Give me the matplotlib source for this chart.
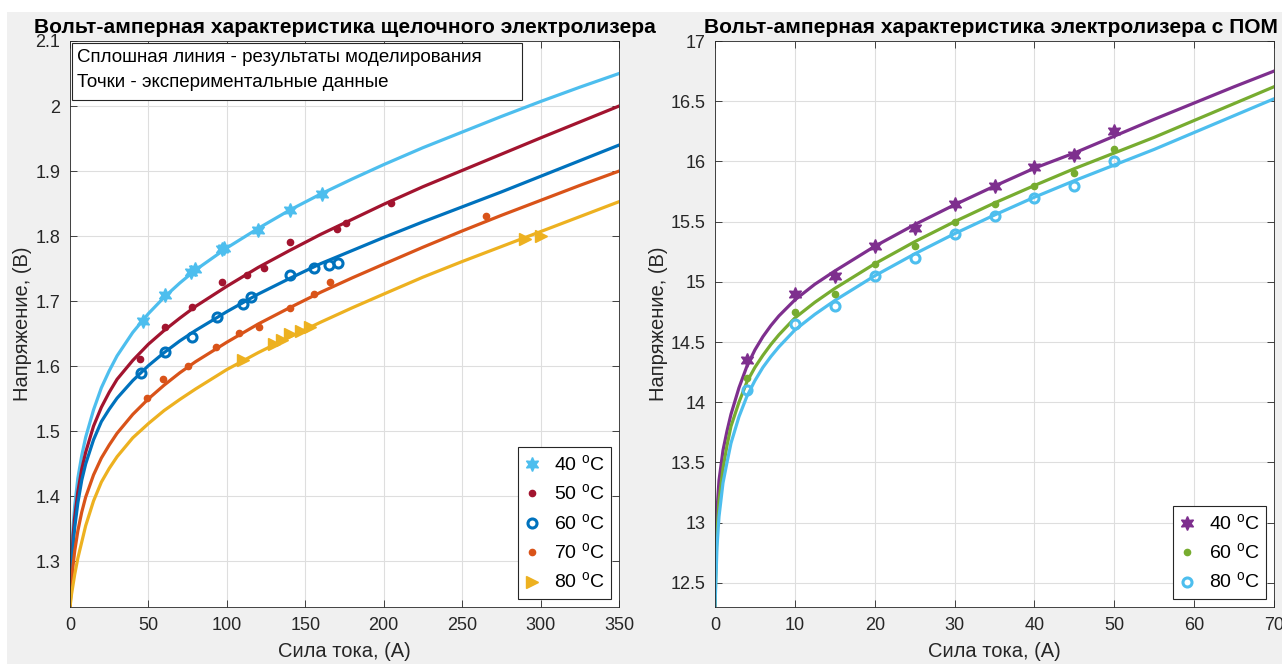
import matplotlib
matplotlib.use('Agg')
import matplotlib.pyplot as plt
from matplotlib.patches import Rectangle
from matplotlib.ticker import FuncFormatter, MultipleLocator

plt.rcParams['font.family'] = ['Liberation Sans', 'DejaVu Sans']
plt.rcParams['mathtext.fontset'] = 'custom'
plt.rcParams['mathtext.rm'] = 'Liberation Sans'

# ---------------- Left chart: alkaline electrolyser ----------------
temps_left = ['40', '50', '60', '70', '80']

I_mod = [0, 0.5, 1, 2, 3, 5, 7.5, 10, 15, 20, 25, 30, 40, 50, 60, 70, 80, 100, 120, 140,
         160, 180, 200, 225, 250, 275, 300, 325, 350]
V_mod_40 = [1.23, 1.28, 1.31, 1.355, 1.385, 1.428, 1.463, 1.491, 1.533, 1.567, 1.593, 1.616,
            1.652, 1.681, 1.706, 1.728, 1.748, 1.782, 1.812, 1.840, 1.865, 1.888, 1.910,
            1.936, 1.960, 1.984, 2.007, 2.029, 2.050]
V_mod_50 = [1.23, 1.265, 1.295, 1.340, 1.368, 1.407, 1.442, 1.468, 1.508, 1.537, 1.560, 1.580,
            1.609, 1.634, 1.655, 1.674, 1.692, 1.723, 1.752, 1.778, 1.803, 1.826, 1.849,
            1.876, 1.901, 1.926, 1.951, 1.9755, 2.000]
V_mod_60 = [1.23, 1.255, 1.28, 1.325, 1.352, 1.39, 1.425, 1.45, 1.487, 1.515, 1.534, 1.551,
            1.578, 1.601, 1.621, 1.639, 1.655, 1.684, 1.711, 1.735, 1.758, 1.778, 1.798,
            1.822, 1.845, 1.868, 1.892, 1.916, 1.940]
V_mod_70 = [1.23, 1.25, 1.268, 1.295, 1.316, 1.347, 1.376, 1.399, 1.433, 1.459, 1.479, 1.497,
            1.526, 1.550, 1.571, 1.590, 1.607, 1.637, 1.665, 1.690, 1.714, 1.736, 1.757,
            1.783, 1.808, 1.832, 1.855, 1.878, 1.900]
V_mod_80 = [1.23, 1.24, 1.25, 1.265, 1.28, 1.305, 1.33, 1.355, 1.393, 1.422, 1.443, 1.461,
            1.490, 1.512, 1.532, 1.549, 1.565, 1.595, 1.621, 1.645, 1.668, 1.690, 1.711,
            1.737, 1.761, 1.784, 1.807, 1.830, 1.853]

I_exp_40 = [46.5, 60.6, 77, 80, 97, 98, 120, 140, 160.8]
V_exp_40 = [1.670, 1.710, 1.745, 1.750, 1.780, 1.782, 1.810, 1.840, 1.865]
I_exp_50 = [44.6, 60.6, 77.6, 97, 113, 123.7, 140.2, 170.4, 175.7, 204.6]
V_exp_50 = [1.611, 1.661, 1.691, 1.730, 1.741, 1.751, 1.791, 1.811, 1.821, 1.851]
I_exp_60 = [45.3, 60.6, 77.8, 93.4, 110.5, 115.4, 140.2, 155.6, 165.3, 170.6]
V_exp_60 = [1.590, 1.622, 1.645, 1.675, 1.696, 1.707, 1.740, 1.751, 1.756, 1.759]
I_exp_70 = [48.9, 59.5, 75.5, 93.1, 107.7, 120.5, 140.2, 155.6, 165.8, 265]
V_exp_70 = [1.551, 1.580, 1.601, 1.630, 1.651, 1.660, 1.690, 1.711, 1.730, 1.831]
I_exp_80 = [110, 130, 135, 140, 147, 153, 290, 300]
V_exp_80 = [1.610, 1.635, 1.640, 1.650, 1.655, 1.660, 1.795, 1.800]

# ---------------- Right chart: PEM electrolyser ----------------
temps_right = ['40', '60', '80']

I_pem_mod = [0, 0.1, 0.25, 0.5, 1, 1.5, 2, 3, 4, 5, 6, 7, 8, 10, 12.5, 15, 20, 25, 30, 35,
             40, 45, 50, 55, 60, 65, 70]
V_pem_mod_40 = [12.3, 12.8, 13.1, 13.35, 13.6, 13.76, 13.9, 14.12, 14.30, 14.435, 14.545,
                14.637, 14.717, 14.85, 14.98, 15.09, 15.295, 15.475, 15.64, 15.795, 15.944,
                16.07, 16.21, 16.35, 16.485, 16.62, 16.75]
V_pem_mod_60 = [12.3, 12.6, 12.92, 13.18, 13.45, 13.64, 13.8, 14.0, 14.17, 14.29, 14.39,
                14.48, 14.56, 14.7, 14.83, 14.945, 15.15, 15.333, 15.5, 15.655, 15.8,
                15.94, 16.07, 16.2, 16.34, 16.48, 16.62]
V_pem_mod_80 = [12.3, 12.5, 12.8, 13.05, 13.33, 13.5, 13.66, 13.88, 14.05, 14.18, 14.29,
                14.38, 14.46, 14.6, 14.73, 14.845, 15.05, 15.232, 15.4, 15.555, 15.703,
                15.84, 15.97, 16.1, 16.24, 16.38, 16.52]

I_pem_exp = [4, 10, 15, 20, 25, 30, 35, 40, 45, 50]
V_pem_exp_40 = [14.35, 14.90, 15.05, 15.30, 15.45, 15.65, 15.80, 15.95, 16.05, 16.25]
V_pem_exp_60 = [14.20, 14.75, 14.90, 15.15, 15.30, 15.50, 15.65, 15.80, 15.90, 16.10]
V_pem_exp_80 = [14.10, 14.65, 14.80, 15.05, 15.20, 15.40, 15.55, 15.70, 15.80, 16.00]

C_BLUE = '#0072BD'; C_ORANGE = '#D95319'; C_YELLOW = '#EDB120'
C_PURPLE = '#7E2F8E'; C_GREEN = '#77AC30'; C_LBLUE = '#4DBEEE'; C_RED = '#A2142F'
AX_COL = '#262626'
HEX = (6, 1, 0)

W, H = 1282, 664
fig = plt.figure(figsize=(W / 100, H / 100), dpi=100, facecolor='white')
fig.patches.append(Rectangle((7 / W, 0), 1, 1 - 12 / H, transform=fig.transFigure,
                             facecolor='#f0f0f0', edgecolor='none', zorder=-10))

ax1 = fig.add_axes([70 / W, 1 - 607 / H, 549 / W, 566 / H])
ax2 = fig.add_axes([715 / W, 1 - 607 / H, 559 / W, 566 / H])

lw = 2.3


def deg(t):
    return t + r' $^{\mathregular{o}}$C'


# left: model lines
ax1.plot(I_mod, V_mod_40, color=C_LBLUE, lw=lw)
ax1.plot(I_mod, V_mod_50, color=C_RED, lw=lw)
ax1.plot(I_mod, V_mod_60, color=C_BLUE, lw=lw)
ax1.plot(I_mod, V_mod_70, color=C_ORANGE, lw=lw)
ax1.plot(I_mod, V_mod_80, color=C_YELLOW, lw=lw)
# left: experiments
ax1.plot(I_exp_40, V_exp_40, ls='none', marker=HEX, ms=10, color=C_LBLUE, label=deg(temps_left[0]))
ax1.plot(I_exp_50, V_exp_50, ls='none', marker='.', ms=9, color=C_RED, label=deg(temps_left[1]))
ax1.plot(I_exp_60, V_exp_60, ls='none', marker='o', ms=6.5, mew=2.2, mfc='none', color=C_BLUE, label=deg(temps_left[2]))
ax1.plot(I_exp_70, V_exp_70, ls='none', marker='.', ms=9, color=C_ORANGE, label=deg(temps_left[3]))
ax1.plot(I_exp_80, V_exp_80, ls='none', marker='>', ms=9, color=C_YELLOW, label=deg(temps_left[4]))

ax1.set_xlim(0, 350)
ax1.set_ylim(1.23, 2.1)
ax1.xaxis.set_major_locator(MultipleLocator(50))
ax1.set_yticks([1.3, 1.4, 1.5, 1.6, 1.7, 1.8, 1.9, 2.0, 2.1])

# right
ax2.plot(I_pem_mod, V_pem_mod_40, color=C_PURPLE, lw=lw)
ax2.plot(I_pem_mod, V_pem_mod_60, color=C_GREEN, lw=lw)
ax2.plot(I_pem_mod, V_pem_mod_80, color=C_LBLUE, lw=lw)
ax2.plot(I_pem_exp, V_pem_exp_40, ls='none', marker=HEX, ms=10, color=C_PURPLE, label=deg(temps_right[0]))
ax2.plot(I_pem_exp, V_pem_exp_60, ls='none', marker='.', ms=9, color=C_GREEN, label=deg(temps_right[1]))
ax2.plot(I_pem_exp, V_pem_exp_80, ls='none', marker='o', ms=6.5, mew=2.2, mfc='none', color=C_LBLUE, label=deg(temps_right[2]))
ax2.set_xlim(0, 70)
ax2.set_ylim(12.3, 17)
ax2.xaxis.set_major_locator(MultipleLocator(10))
ax2.set_yticks([12.5, 13, 13.5, 14, 14.5, 15, 15.5, 16, 16.5, 17])

fmt = FuncFormatter(lambda v, p: ('%.4f' % v).rstrip('0').rstrip('.'))
for ax, title, tx in ((ax1, 'Вольт-амперная характеристика щелочного электролизера', 0.5),
                      (ax2, 'Вольт-амперная характеристика электролизера с ПОМ', 0.493)):
    ax.set_facecolor('white')
    ax.grid(True, color='#dedede', lw=0.8)
    ax.set_axisbelow(True)
    ax.tick_params(direction='in', top=True, right=True, length=5, width=0.6,
                   labelsize=13, colors=AX_COL, pad=7)
    for s in ax.spines.values():
        s.set_color(AX_COL)
        s.set_linewidth(0.6)
    ax.xaxis.set_major_formatter(fmt)
    ax.yaxis.set_major_formatter(fmt)
    ax.set_xlabel('Сила тока, (A)', fontsize=14.5, color=AX_COL, labelpad=6)
    ax.set_ylabel('Напряжение, (В)', fontsize=14.5, color=AX_COL, labelpad=2)
    ax.set_title(title, fontsize=15.1, fontweight='bold', color='black', pad=6, x=tx)

leg_kw = dict(frameon=True, fancybox=False, edgecolor=AX_COL, facecolor='white', framealpha=1,
              fontsize=14, handlelength=0.8, handletextpad=0.7, borderpad=0.35, labelspacing=0.45,
              borderaxespad=0.4)
l1 = ax1.legend(loc='lower right', **leg_kw)
l1.get_frame().set_linewidth(0.8)
l2 = ax2.legend(loc='lower right', **leg_kw)
l2.get_frame().set_linewidth(0.8)

# annotation box
ax1.add_patch(Rectangle((0.004, 0.896), 0.819, 0.100, transform=ax1.transAxes,
                        facecolor='white', edgecolor=AX_COL, lw=0.8, zorder=5))
ax1.text(0.0128, 0.971, 'Сплошная линия - результаты моделирования', transform=ax1.transAxes,
         ha='left', va='center', fontsize=13.5, color='black', zorder=6)
ax1.text(0.0128, 0.927, 'Точки - экспериментальные данные', transform=ax1.transAxes,
         ha='left', va='center', fontsize=13.5, color='black', zorder=6)

fig.savefig('out.png', dpi=100, facecolor=fig.get_facecolor())
